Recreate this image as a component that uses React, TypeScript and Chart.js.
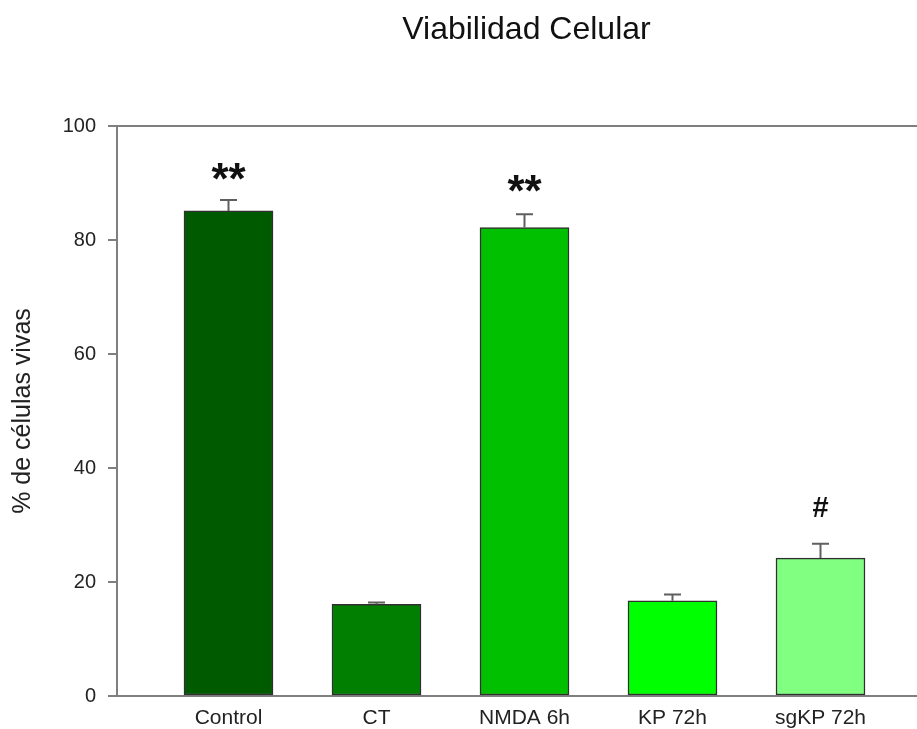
import React, { useEffect, useRef } from "react";
import { Chart, registerables } from "chart.js";

Chart.register(...registerables);

const categories = ["Control", "CT", "NMDA 6h", "KP 72h", "sgKP 72h"];
const values = [85.1, 16.1, 82.2, 16.7, 24.2];
const errors = [1.9, 0.3, 2.3, 1.1, 2.5];
const barColors = ["#005a00", "#007f00", "#00c000", "#00ff00", "#80ff80"];
const marks = ["**", "", "**", "", "#"];
const markValues = [92.0, 0, 90.0, 0, 33.1];
const yTicks = [0, 20, 40, 60, 80, 100];

const AXIS = "#7f7f7f";
const TEXT = "#222222";
const FONT = "'Liberation Sans', Arial, sans-serif";

export default function App() {
  const ref = useRef<HTMLCanvasElement | null>(null);

  useEffect(() => {
    if (!ref.current) return;

    const extras = {
      id: "extras",
      afterDatasetsDraw(chart: any) {
        const { ctx } = chart;
        const xs = chart.scales.x;
        const ys = chart.scales.y;
        ctx.save();
        // error bars
        ctx.strokeStyle = "#5f5f5f";
        ctx.lineWidth = 2;
        values.forEach((v, i) => {
          const x = xs.getPixelForValue(i);
          const y0 = ys.getPixelForValue(v);
          const y1 = ys.getPixelForValue(v + errors[i]);
          ctx.beginPath();
          ctx.moveTo(x, y0);
          ctx.lineTo(x, y1);
          ctx.moveTo(x - 8.5, y1);
          ctx.lineTo(x + 8.5, y1);
          ctx.stroke();
        });
        // significance marks
        ctx.fillStyle = "#111";
        ctx.textAlign = "center";
        ctx.textBaseline = "alphabetic";
        marks.forEach((m, i) => {
          if (!m) return;
          ctx.font = m === "#" ? `bold 29px ${FONT}` : `bold 44px ${FONT}`;
          const met = ctx.measureText(m);
          const x = xs.getPixelForValue(i);
          const yc = ys.getPixelForValue(markValues[i]);
          const y = yc + (met.actualBoundingBoxAscent - met.actualBoundingBoxDescent) / 2;
          ctx.fillText(m, x, y);
        });
        ctx.restore();
      },
    };

    const chart = new Chart(ref.current, {
      type: "bar",
      data: {
        datasets: [
          {
            data: values.map((v, i) => ({ x: i, y: v })),
            backgroundColor: barColors,
            borderColor: "#303030",
            borderWidth: 1.5,
            borderSkipped: false,
            barThickness: 89,
          },
        ],
      },
      options: {
        animation: false,
        responsive: false,
        devicePixelRatio: 1,
        layout: { padding: { left: 0, right: 0, top: 0, bottom: 0 } },
        plugins: {
          legend: { display: false },
          tooltip: { enabled: false },
          title: {
            display: true,
            text: "Viabilidad Celular",
            color: "#111",
            font: { family: FONT, size: 32, weight: "normal" },
            padding: { top: 11, bottom: 76.6 },
          },
        },
        scales: {
          x: {
            type: "linear",
            offset: false,
            min: -0.7534,
            max: 5.571,
            afterBuildTicks: (s: any) => {
              s.ticks = categories.map((_, i) => ({ value: i }));
            },
            afterFit: (s: any) => {
              s.height = 33;
            },
            ticks: {
              autoSkip: false,
              maxRotation: 0,
              padding: 10,
              color: TEXT,
              font: { family: FONT, size: 21 },
              callback: (v: any) => categories[v] ?? "",
            },
            grid: { display: false, drawTicks: false },
            border: { display: true, color: AXIS, width: 2 },
          },
          y: {
            min: 0,
            max: 100,
            afterBuildTicks: (s: any) => {
              s.ticks = yTicks.map((v) => ({ value: v }));
            },
            afterFit: (s: any) => {
              s.width = 117;
            },
            ticks: {
              padding: 12,
              color: TEXT,
              font: { family: FONT, size: 20 },
            },
            grid: {
              display: true,
              drawOnChartArea: true,
              drawTicks: true,
              tickLength: 9,
              lineWidth: 2,
              color: (c: any) => (c.tick && (c.tick.value === 0 || c.tick.value === 100) ? AXIS : "rgba(0,0,0,0)"),
              tickColor: AXIS,
            },
            border: { display: true, color: AXIS, width: 2 },
            title: {
              display: true,
              text: "% de células vivas",
              color: TEXT,
              font: { family: FONT, size: 25 },
              padding: { top: 8, bottom: 0 },
            },
          },
        },
      },
      plugins: [extras],
    } as any);

    return () => chart.destroy();
  }, []);

  return (
    <div style={{ position: "absolute", left: 0, top: 0, width: 917, height: 729, overflow: "hidden", background: "#fff" }}>
      <canvas ref={ref} width={1053} height={729} style={{ display: "block" }} />
    </div>
  );
}
